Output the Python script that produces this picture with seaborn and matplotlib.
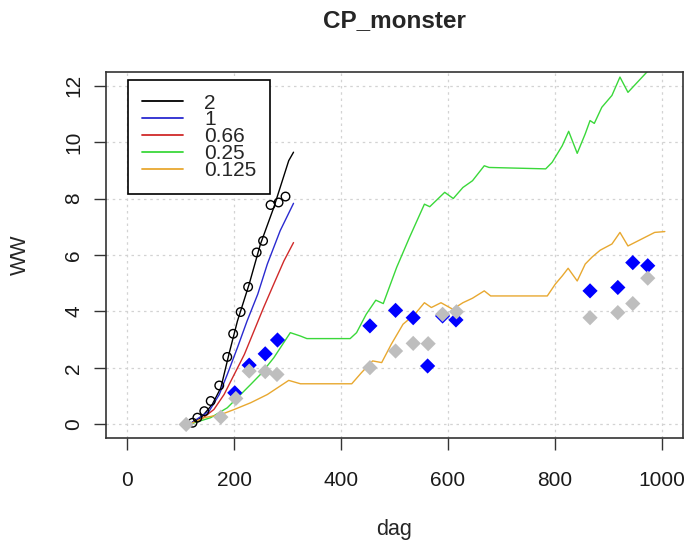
import numpy as np
import pandas as pd
import seaborn as sns
import matplotlib.pyplot as plt

# observed points
obs_x = [122, 131, 144, 156, 172, 187, 198, 212, 226, 242, 254, 268, 283, 296]
obs_y = [0.06, 0.24, 0.47, 0.83, 1.38, 2.39, 3.21, 3.98, 4.87, 6.09, 6.50, 7.77, 7.86, 8.07]

blue_x = [201, 228, 258, 281, 454, 502, 535, 562, 590, 615, 866, 918, 946, 974]
blue_y = [1.12, 2.10, 2.50, 2.99, 3.49, 4.04, 3.78, 2.07, 3.84, 3.70, 4.73, 4.85, 5.73, 5.62]

gray_x = [110, 175, 203, 228, 258, 280, 454, 502, 535, 563, 590, 616, 866, 918, 946, 974]
gray_y = [0.0, 0.26, 0.92, 1.89, 1.87, 1.77, 2.01, 2.60, 2.87, 2.86, 3.90, 3.99, 3.78, 3.96, 4.28, 5.18]

# model curves
k2_x = [115, 138, 159, 175, 190, 206, 228, 249, 274, 302, 311]
k2_y = [0.0, 0.24, 0.71, 1.30, 2.48, 3.66, 4.97, 6.38, 7.68, 9.34, 9.64]
k1_x = [115, 153, 172, 187, 206, 224, 244, 262, 286, 311]
k1_y = [0.0, 0.47, 1.06, 1.77, 2.72, 3.66, 4.61, 5.68, 6.86, 7.83]
k066_x = [115, 138, 162, 181, 200, 219, 237, 255, 274, 293, 311]
k066_y = [0.0, 0.18, 0.53, 1.06, 1.77, 2.48, 3.31, 4.14, 4.97, 5.79, 6.44]
k025_x = [115, 156, 187, 212, 231, 249, 274, 305, 324, 336, 417, 429, 447, 465,
          479, 504, 528, 556, 566, 594, 610, 628, 646, 668, 677, 783, 795, 814,
          826, 842, 857, 866, 874, 888, 907, 922, 937, 972, 1006]
k025_y = [0.0, 0.24, 0.59, 1.06, 1.42, 1.77, 2.36, 3.25, 3.13, 3.04, 3.04, 3.25, 3.90, 4.40,
          4.28, 5.56, 6.62, 7.80, 7.71, 8.22, 8.00, 8.39, 8.63, 9.16, 9.10, 9.05, 9.28, 9.87,
          10.38, 9.60, 10.29, 10.76, 10.66, 11.23, 11.65, 12.30, 11.76, 12.47, 13.1]
k0125_x = [115, 144, 175, 200, 231, 262, 286, 302, 324, 420, 438, 459, 476, 494,
           516, 538, 556, 569, 587, 609, 628, 646, 668, 680, 786, 801, 814, 825,
           842, 857, 870, 885, 907, 922, 937, 962, 987, 1006]
k0125_y = [0.0, 0.24, 0.35, 0.53, 0.77, 1.06, 1.36, 1.56, 1.44, 1.44, 1.83, 2.25, 2.19, 2.84,
           3.55, 3.90, 4.31, 4.14, 4.31, 4.08, 4.31, 4.47, 4.73, 4.55, 4.55, 4.97, 5.26, 5.53,
           5.08, 5.68, 5.93, 6.17, 6.39, 6.80, 6.32, 6.56, 6.80, 6.83]

labels = ['2', '1', '0.66', '0.25', '0.125']
colors = ['black', '#2a2ad0', '#d02a2a', '#3ad83a', '#e8a830']
curves = [(k2_x, k2_y), (k1_x, k1_y), (k066_x, k066_y), (k025_x, k025_y), (k0125_x, k0125_y)]

sns.set_style('white')
plt.rcParams['font.family'] = ['Liberation Sans', 'DejaVu Sans']

fig = plt.figure(figsize=(6.86, 5.44), dpi=100)
ax = fig.add_axes([106 / 686, 1 - 438 / 544, 577 / 686, 366 / 544])

for (cx, cy), lab, col in zip(curves, labels, colors):
    sns.lineplot(x=cx, y=cy, color=col, linewidth=1, label=lab, ax=ax,
                 sort=False, estimator=None)

sns.scatterplot(x=obs_x, y=obs_y, marker='o', s=38, facecolor='none',
                edgecolor='black', linewidth=1, ax=ax, zorder=3)
sns.scatterplot(x=blue_x, y=blue_y, marker='D', s=60, color='#0000ff',
                edgecolor='none', ax=ax, zorder=4)
sns.scatterplot(x=gray_x, y=gray_y, marker='D', s=60, color='#bebebe',
                edgecolor='none', ax=ax, zorder=5)

ax.set_xlim(-40, 1040)
ax.set_ylim(-0.48, 12.48)
ax.set_xticks(range(0, 1001, 200))
ax.set_yticks(range(0, 13, 2))
ax.grid(True, color='#d3d3d3', linestyle=(0, (2, 3)), linewidth=0.9)
ax.tick_params(axis='both', direction='out', length=8.5, width=1, colors='#333333',
               labelsize=15, left=True, bottom=True)
ax.tick_params(axis='x', pad=15, labelcolor='#1a1a1a')
ax.tick_params(axis='y', pad=8, labelcolor='#1a1a1a')
plt.setp(ax.get_yticklabels(), rotation=90, va='center')
for sp in ax.spines.values():
    sp.set_color('#333333')
    sp.set_linewidth(1.2)

ax.set_xlabel('dag', fontsize=15.5, va='center', ha='center')
ax.xaxis.set_label_coords(0.5, (438 - 530) / 366)
ax.set_ylabel('WW', fontsize=15.5, va='center', ha='center')
ax.yaxis.set_label_coords((20 - 106) / 577, 0.5)
ax.set_title('CP_monster', fontsize=17.5, fontweight='bold', y=1 + (72 - 21) / 366,
             va='center', pad=0)

leg = ax.legend(loc='upper left', bbox_to_anchor=(22 / 577, 1 - 8 / 366), fontsize=15,
                frameon=True, fancybox=False, framealpha=1, edgecolor='black',
                handlelength=2.0, handletextpad=1.0, borderpad=0.65,
                labelspacing=-0.1, borderaxespad=0)
leg.get_frame().set_linewidth(1.2)
for ln in leg.get_lines():
    ln.set_linewidth(1.3)

fig.savefig('out.png', dpi=100)
